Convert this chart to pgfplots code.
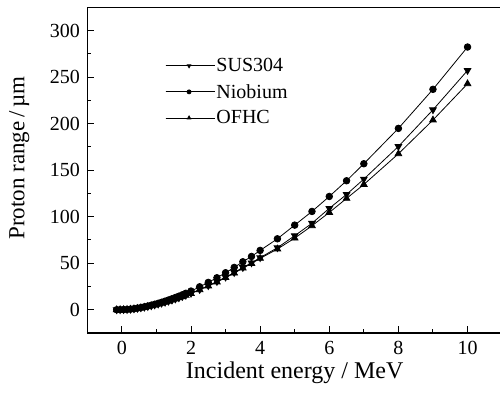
\documentclass[border=0pt]{standalone}
\usepackage{pgfplots}
\pgfplotsset{compat=1.18}
\usepackage{pgfplotstable}
\usepackage{fontspec}
\setmainfont{Liberation Serif}

\pgfplotstableread{
E     nb     sus    ofhc
-0.15 0.0    0.0    0.0
-0.05 0.1    0.09   0.09
0.05  0.2    0.18   0.17
0.15  0.3    0.26   0.26
0.25  0.64   0.56   0.56
0.35  1.11   0.98   0.97
0.45  1.69   1.49   1.47
0.55  2.36   2.08   2.05
0.65  3.11   2.74   2.71
0.75  3.95   3.48   3.44
0.85  4.85   4.27   4.22
0.95  5.84   5.14   5.08
1.05  6.90   6.07   6.00
1.15  8.02   7.06   6.98
1.25  9.21   8.10   8.01
1.35  10.47  9.21   9.11
1.45  11.8   10.38  10.27
1.55  13.2   11.62  11.48
1.65  14.6   12.85  12.70
1.75  16.1   14.17  14.01
1.85  17.7   15.58  15.40
2.0   20.1   17.7   17.4
2.25  24.7   21.7   21.4
2.5   29.4   25.9   25.5
2.75  34.4   30.3   29.8
3.0   39.8   35.0   34.5
3.25  45.5   40.0   39.4
3.5   51.6   45.4   44.7
3.75  57.3   50.4   49.7
4.0   63.8   56.0   55.2
4.5   76.3   66.7   65.3
5.0   91.0   79.6   77.0
5.5   105.7  93.0   90.3
6.0   121.8  109.0  104.6
6.5   138.7  124.0  119.7
7.0   157.0  140.5  134.7
8.0   195.0  175.6  167.7
9.0   237.0  215.0  204.0
10.0  282.5  257.3  243.0
}\ranges

\begin{document}
\begin{tikzpicture}
\begin{axis}[
  at={(0,0)}, anchor=south west,
  scale only axis,
  width=414.8pt, height=325.5pt,
  xmin=-1, xmax=11,
  ymin=-25, ymax=325,
  xtick={0,2,...,10},
  ytick={0,50,...,300},
  minor x tick num=1,
  minor y tick num=1,
  xtick pos=bottom, ytick pos=left,
  tick align=inside,
  major tick length=7pt,
  minor tick length=4pt,
  axis line style={line width=1.2pt},
  every tick/.style={line width=1pt, black},
  /pgf/number format/assume math mode=true,
  tick label style={font=\fontsize{20}{20}\selectfont},
  xticklabel style={yshift=-5pt},
  yticklabel style={xshift=-4pt},
  xlabel={Incident energy / MeV},
  ylabel={Proton range\,/\,µm},
  xlabel style={font=\fontsize{24}{24}\selectfont,
    at={(axis description cs:0.5,-0.121)}, anchor=center},
  ylabel style={font=\fontsize{23}{23}\selectfont,
    at={(axis description cs:-0.164,0.538)}, anchor=center},
  legend cell align=left,
  legend style={draw=none, fill=none,
    at={(axis description cs:0.180,0.855)}, anchor=north west,
    font=\fontsize{20}{20}\selectfont,
    nodes={inner sep=1.5pt}, row sep=8pt},
  legend image code/.code={
    \draw[mark=none] (0pt,0pt) -- (15pt,0pt);
    \draw[mark=none] (32pt,0pt) -- (47pt,0pt);
    \draw[only marks, mark size=2pt] plot coordinates {(23.5pt,0pt)};
    \path (0pt,0pt) -- (49pt,0pt);
  },
]
\addplot[black, line width=0.8pt, mark=triangle*, mark size=3.8pt,
  mark options={solid, fill=black, rotate=180}] table[x=E, y=sus] {\ranges};
\addlegendentry{SUS304}
\addplot[black, line width=0.8pt, mark=*, mark size=3.3pt,
  mark options={solid, fill=black}] table[x=E, y=nb] {\ranges};
\addlegendentry{Niobium}
\addplot[black, line width=0.8pt, mark=triangle*, mark size=3.8pt,
  mark options={solid, fill=black}] table[x=E, y=ofhc] {\ranges};
\addlegendentry{OFHC}
\end{axis}
\pgfresetboundingbox
\path[use as bounding box] (-87.3pt,-68pt) rectangle (412.7pt,333pt);
\end{tikzpicture}
\end{document}
